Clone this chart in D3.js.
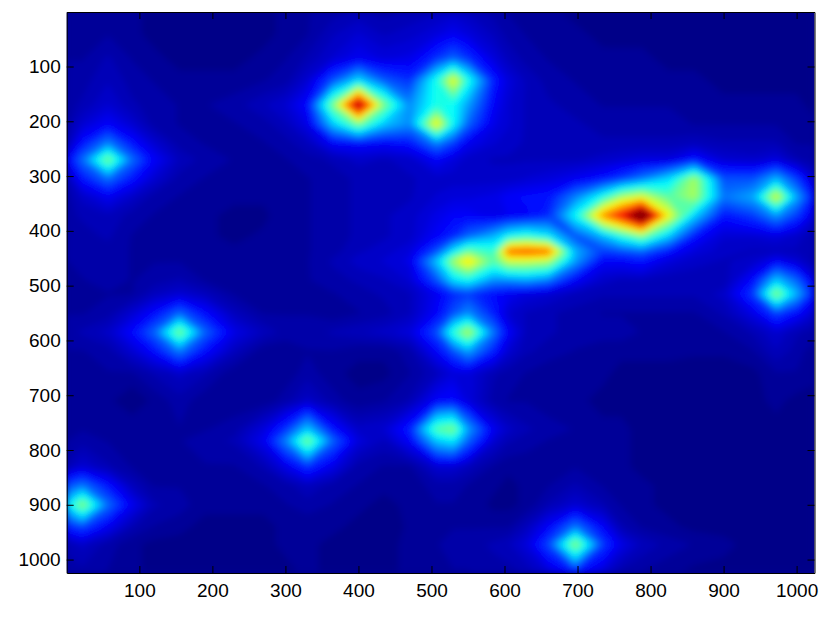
<!DOCTYPE html>
<html>
<head>
<meta charset="utf-8">
<script src="https://cdn.jsdelivr.net/npm/d3@7"></script>
<style>
  body { margin: 0; background: #fff; }
  text { font-family: "Liberation Sans", Arial, sans-serif; }
</style>
</head>
<body>
<svg id="chart" width="830" height="625"></svg>
<script>
const xTicks = [100, 200, 300, 400, 500, 600, 700, 800, 900, 1000];
const yTicks = [100, 200, 300, 400, 500, 600, 700, 800, 900, 1000];

// sample positions, denser around the hot spots
const xNodes = [0,22,57,90,120,155,190,230,270,300,330,365,400,435,470,507,530,550,585,605,630,660,697,735,760,788,825,860,900,940,972,1000,1024];
const yNodes = [0,40,85,125,170,205,240,270,305,338,372,410,437,455,490,515,550,585,620,660,710,762,783,830,865,900,940,972,1024];

// intensity in percent, one row per yNode
// (the hottest node sits a little over 100 because the soften filter pulls it down)
const intensity = [
  [3,3,3,2,1,1,1,1,1,2,3,4,5,4,5,6,7,6,4,3,2,2,1,1,1,1,1,1,1,0,0,0,0],
  [3,3,3,2,1,1,1,1,1,2,3,6,8,6,7,9,11,9,6,4,3,2,2,1,1,1,1,1,1,0,0,0,0],
  [3,3,5,3,2,1,1,1,2,3,5,8,11,9,10,17,22,17,9,6,4,3,3,2,2,2,1,1,1,1,1,1,1],
  [4,4,6,4,3,2,2,2,3,4,8,20,34,21,17,40,62,40,15,9,6,4,3,3,2,2,2,2,1,1,1,1,1],
  [4,5,8,5,4,3,3,4,6,8,13,50,100,50,26,40,38,28,12,8,6,5,4,3,3,3,3,3,2,2,2,2,1],
  [4,8,12,8,4,3,3,3,4,6,10,32,50,32,26,64,38,22,10,8,6,5,5,4,4,4,4,3,3,3,3,2,2],
  [5,14,25,14,8,4,3,3,3,4,6,12,13,12,14,25,18,11,8,7,6,6,5,5,5,5,5,6,5,5,5,3,3],
  [11,23,50,23,12,6,4,3,3,3,4,5,7,6,7,12,9,7,6,6,6,6,6,7,8,9,9,14,8,7,9,5,4],
  [5,14,23,14,8,4,3,3,2,3,3,4,5,5,6,7,7,7,7,7,8,9,11,14,18,24,34,54,20,20,30,18,8],
  [4,7,11,7,4,3,3,2,2,3,3,4,5,5,6,8,9,9,10,12,13,14,25,40,54,60,46,54,24,29,60,29,13],
  [4,5,6,4,3,3,2,1,1,3,3,4,5,6,7,10,12,12,10,11,12,16,38,74,88,115,62,33,14,18,27,18,9],
  [4,4,5,3,3,3,2,1,2,3,3,4,5,6,7,12,16,22,30,38,42,36,20,30,40,50,32,14,8,8,9,7,5],
  [4,4,4,3,3,3,2,2,2,3,3,4,6,7,9,20,36,48,42,78,80,78,30,18,20,22,14,9,7,6,6,6,5],
  [3,4,4,3,3,3,2,2,3,3,3,5,7,8,10,32,54,66,46,58,58,55,28,12,12,14,9,7,6,7,12,8,5],
  [3,3,4,3,4,5,3,2,3,3,3,4,5,6,8,20,34,38,26,26,28,24,12,7,6,6,5,5,5,13,32,22,10],
  [3,3,3,3,6,8,6,3,3,3,2,3,4,5,6,11,16,18,13,11,9,8,6,5,5,5,5,5,7,18,52,30,14],
  [3,3,4,8,13,22,13,6,3,3,3,2,3,4,6,12,20,26,15,8,6,5,4,3,3,3,3,3,5,10,19,13,8],
  [4,5,7,13,22,50,22,10,6,4,4,5,6,7,9,20,42,56,24,12,6,5,4,4,4,3,3,3,3,5,8,5,4],
  [3,3,4,8,13,24,13,6,2,2,3,3,2,2,4,12,20,28,15,8,5,4,3,2,2,2,2,2,2,3,6,4,2],
  [2,2,3,3,5,7,5,2,2,2,4,2,1,1,3,6,9,9,5,4,3,2,2,2,1,1,1,0,0,1,3,3,2],
  [2,2,2,0,2,4,2,2,2,4,7,4,2,3,5,12,13,9,4,3,3,2,2,1,1,1,1,0,0,1,2,1,1],
  [3,3,3,3,3,3,3,4,9,17,32,14,7,8,15,46,50,28,11,7,5,4,3,2,2,1,1,1,0,0,1,1,1],
  [3,4,3,3,3,3,4,5,11,25,50,22,9,6,12,32,36,22,8,5,4,3,3,2,2,1,1,1,0,0,1,1,1],
  [5,8,5,3,3,3,3,3,5,10,17,10,4,3,3,8,8,6,3,2,2,2,3,2,2,1,1,0,0,0,1,1,1],
  [19,24,14,6,3,3,3,3,3,4,6,4,3,2,2,4,4,3,2,1,2,3,5,3,2,2,1,0,0,0,1,1,1],
  [34,52,23,11,5,4,2,2,2,3,4,3,2,1,2,3,3,3,1,1,2,5,8,5,3,2,1,0,0,0,1,1,1],
  [15,19,11,5,3,2,1,1,1,2,2,2,1,0,2,3,3,3,3,3,6,12,24,12,5,3,2,1,1,1,1,1,1],
  [5,7,4,2,1,1,1,1,1,2,2,1,1,1,2,3,4,4,5,6,9,19,52,18,10,6,4,3,2,1,1,1,1],
  [4,4,3,2,1,1,1,1,1,1,2,1,1,1,2,3,3,3,4,4,5,8,14,8,4,3,2,1,1,1,1,1,1]
];

// matlab jet, v in 0..1
function jet(v) {
  const r = Math.max(0, Math.min(1, 1.5 - Math.abs(4 * v - 3)));
  const g = Math.max(0, Math.min(1, 1.5 - Math.abs(4 * v - 2)));
  const b = Math.max(0, Math.min(1, 1.5 - Math.abs(4 * v - 1)));
  return d3.rgb(r * 255, g * 255, b * 255).formatHex();
}

const margin = { top: 12, right: 15.5, bottom: 52, left: 66.7 };
const svgWidth = 830, svgHeight = 625;
const svg = d3.select('#chart');

const x = d3.scaleLinear().domain([0.5, 1024.5]).range([margin.left, svgWidth - margin.right]);
const y = d3.scaleLinear().domain([0.5, 1024.5]).range([margin.top, svgHeight - margin.bottom]);

const defs = svg.append('defs');
defs.append('clipPath').attr('id', 'plot-clip').append('rect')
  .attr('x', x.range()[0]).attr('y', y.range()[0])
  .attr('width', x.range()[1] - x.range()[0])
  .attr('height', y.range()[1] - y.range()[0]);
defs.append('filter').attr('id', 'soften')
  .attr('filterUnits', 'userSpaceOnUse')
  .attr('x', 40).attr('y', -10).attr('width', 800).attr('height', 610)
  .append('feGaussianBlur').attr('stdDeviation', 3);

// contour coordinates -> data units (grid point i sits at i + 0.5)
const colToX = d3.scaleLinear().domain(xNodes.map((d, i) => i + 0.5)).range(xNodes).clamp(true);
const rowToY = d3.scaleLinear().domain(yNodes.map((d, i) => i + 0.5)).range(yNodes).clamp(true);

const levels = d3.range(64).map(i => i * 100 / 64);
const contours = d3.contours()
  .size([xNodes.length, yNodes.length])
  .thresholds(levels)(intensity.flat());

const path = d3.geoPath(d3.geoTransform({
  point(cx, cy) { this.stream.point(x(colToX(cx)), y(rowToY(cy))); }
}));

const plot = svg.append('g').attr('clip-path', 'url(#plot-clip)');
plot.append('rect')
  .attr('x', x.range()[0]).attr('y', y.range()[0])
  .attr('width', x.range()[1] - x.range()[0])
  .attr('height', y.range()[1] - y.range()[0])
  .attr('fill', jet(0.02));

plot.append('g').attr('filter', 'url(#soften)')
  .selectAll('path')
  .data(contours)
  .enter().append('path')
  .attr('d', path)
  .attr('fill', d => jet((d.value + 0.8) / 100));

// axes, box on with inward ticks on all four sides
function styleAxis(g) {
  g.selectAll('.domain').attr('stroke', '#000').attr('stroke-width', 1);
  g.selectAll('.tick line').attr('stroke', '#000').attr('stroke-width', 1);
  g.selectAll('text').attr('fill', '#000').style('font-size', '19px');
}

svg.append('g')
  .attr('transform', `translate(0,${y.range()[1]})`)
  .call(d3.axisBottom(x).tickValues(xTicks).tickFormat(d3.format('d')).tickSize(-7).tickSizeOuter(0).tickPadding(11))
  .call(styleAxis);

svg.append('g')
  .attr('transform', `translate(${x.range()[0]},0)`)
  .call(d3.axisLeft(y).tickValues(yTicks).tickFormat(d3.format('d')).tickSize(-7).tickSizeOuter(0).tickPadding(6))
  .call(styleAxis);

svg.append('g')
  .attr('transform', `translate(0,${y.range()[0]})`)
  .call(d3.axisTop(x).tickValues(xTicks).tickSize(-7).tickSizeOuter(0).tickFormat(''))
  .call(styleAxis);

svg.append('g')
  .attr('transform', `translate(${x.range()[1]},0)`)
  .call(d3.axisRight(y).tickValues(yTicks).tickSize(-7).tickSizeOuter(0).tickFormat(''))
  .call(styleAxis);
</script>
</body>
</html>
